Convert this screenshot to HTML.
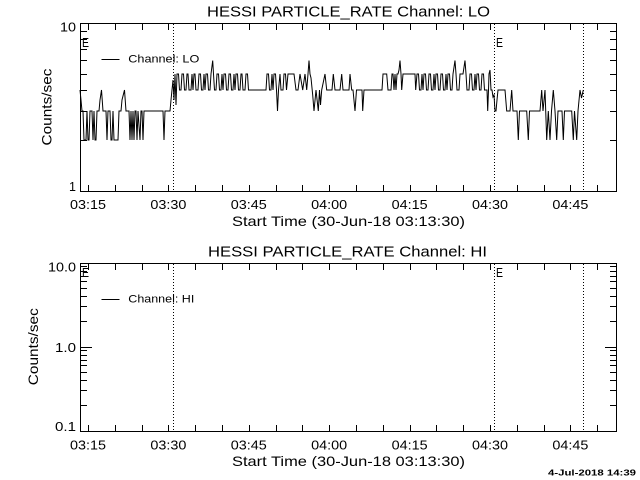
<!DOCTYPE html>
<html><head><meta charset="utf-8"><style>
html,body{margin:0;padding:0;background:#fff;}
svg{display:block;}
text{font-family:"Liberation Sans",sans-serif;fill:#000;}
</style></head><body>
<svg width="640" height="480" viewBox="0 0 640 480" xmlns="http://www.w3.org/2000/svg">
<rect x="0" y="0" width="640" height="480" fill="#fff"/>

<!-- ===== TOP PANEL ===== -->
<text x="207" y="16.5" font-size="15" textLength="283" lengthAdjust="spacingAndGlyphs">HESSI PARTICLE_RATE Channel: LO</text>
<rect x="80.5" y="23.5" width="536" height="168" fill="none" stroke="#000" stroke-width="1" shape-rendering="crispEdges"/>
<path shape-rendering="crispEdges" stroke="#000" stroke-width="1" fill="none" d="
M88.5 191 v-6 M115.5 191 v-6 M142.5 191 v-6 M168.5 191 v-6 M195.5 191 v-6 M222.5 191 v-6 M249.5 191 v-6 M276.5 191 v-6 M302.5 191 v-6 M329.5 191 v-6 M356.5 191 v-6 M383.5 191 v-6 M410.5 191 v-6 M436.5 191 v-6 M463.5 191 v-6 M490.5 191 v-6 M517.5 191 v-6 M544.5 191 v-6 M570.5 191 v-6 M597.5 191 v-6
M88.5 24 v6 M115.5 24 v6 M142.5 24 v6 M168.5 24 v6 M195.5 24 v6 M222.5 24 v6 M249.5 24 v6 M276.5 24 v6 M302.5 24 v6 M329.5 24 v6 M356.5 24 v6 M383.5 24 v6 M410.5 24 v6 M436.5 24 v6 M463.5 24 v6 M490.5 24 v6 M517.5 24 v6 M544.5 24 v6 M570.5 24 v6 M597.5 24 v6
M81 140.5 h6 M81 111.5 h6 M81 90.5 h6 M81 74.5 h6 M81 60.5 h6 M81 49.5 h6 M81 39.5 h6 M81 31.5 h6
M616 140.5 h-6 M616 111.5 h-6 M616 90.5 h-6 M616 74.5 h-6 M616 60.5 h-6 M616 49.5 h-6 M616 39.5 h-6 M616 31.5 h-6
"/>
<path stroke="#000" stroke-width="1" stroke-dasharray="1 2" fill="none" d="M173.5 24 V191 M494.5 24 V191 M583.5 24 V191"/>
<text x="76" y="31.5" font-size="12.5" text-anchor="end" textLength="16" lengthAdjust="spacingAndGlyphs">10</text>
<text x="76" y="191" font-size="12.5" text-anchor="end">1</text>
<text transform="translate(51.5,107) rotate(-90)" x="0" y="0" font-size="14" text-anchor="middle" textLength="77" lengthAdjust="spacingAndGlyphs">Counts/sec</text>
<g font-size="12.5" text-anchor="middle">
<text x="88" y="209" textLength="36" lengthAdjust="spacingAndGlyphs">03:15</text>
<text x="168.4" y="209" textLength="36" lengthAdjust="spacingAndGlyphs">03:30</text>
<text x="248.8" y="209" textLength="36" lengthAdjust="spacingAndGlyphs">03:45</text>
<text x="329.2" y="209" textLength="36" lengthAdjust="spacingAndGlyphs">04:00</text>
<text x="409.6" y="209" textLength="36" lengthAdjust="spacingAndGlyphs">04:15</text>
<text x="490" y="209" textLength="36" lengthAdjust="spacingAndGlyphs">04:30</text>
<text x="570.4" y="209" textLength="36" lengthAdjust="spacingAndGlyphs">04:45</text>
</g>
<text x="232" y="226" font-size="14" textLength="233" lengthAdjust="spacingAndGlyphs">Start Time (30-Jun-18 03:13:30)</text>
<text x="82" y="47" font-size="13" textLength="7" lengthAdjust="spacingAndGlyphs">E</text>
<text x="496" y="47" font-size="13" textLength="7" lengthAdjust="spacingAndGlyphs">E</text>
<path d="M101.7 59.5 H119.3" stroke="#000" stroke-width="1" shape-rendering="crispEdges"/>
<text x="128.3" y="62.7" font-size="11" textLength="71" lengthAdjust="spacingAndGlyphs">Channel: LO</text>

<polyline fill="none" stroke="#000" stroke-width="1" stroke-linejoin="miter" points="
80,90 81,100 82,111 83,111 84,140 86,140 87,111 88,140 89,140 90,111 92,111 93,140 94,111 95,140 96,140 97,111 99,111 100,100 101.5,90 103,111 106,111 107,140 108,111 110,111 111,140 112,140 113,111 114,140 118,140 119,111 121,111 122,100 124.5,90 126,111 129,111 130,140 131,111 132,140 133,111 134,140 135,111 136,111 137,140 138,111 140,140 141,111 142,111 143,140 144,111 163,111 164,140 165,111 169,111 170,111 171,100 172,90 173,80 174,100 175,74 176,105 177,74
178.5,74 179.5,90 181,90 182,74 183.5,74 184.5,90 186,90 187,74 188,74 189,90 191,90 192,74 193,90 194,74 195,74 196,90 198,90 199,74 200.5,74 201.5,90 203,90 204,74 205,90 206,74 207.5,74 208.5,90 210,90 211,74 212.7,60.5 213.5,74 214.5,90 216,90 217,74 218.5,74 219.5,90 221,90 222,74 223,90 224,74 225.5,74 226.5,90 228,90 229,74 230.5,74 231.5,90 233,90 234,74 235,90 236,74 237.5,74 238.5,90 240,90 241,74 242,74 243,90 245,90 246,74 247.5,74 248.5,90 266,90 267,74 268.5,74 269.5,90 271,90 272,74 273,90 274,74 275.5,74 276.5,90 277.5,111 278.5,90 280,74 281,90 283,90 284,74 285.5,74 286.5,90 288,74
294,74 296,90 298,90 300,74 302.7,90 305,74 306.7,90 308,74 309,60.5 310,74 311,78 312.7,95 314,111 316,90 318.3,111 319.5,90 320.5,105 321.7,90 325,74 326.7,90 332,90 333.3,74 335,90 340,90 341.7,74 343,90 349,90 350,74 351.7,90 353,90 355,111 356.5,90 362,90 362.7,111 364,90 382,90 383,74 386.7,74 388,90 391,90 392,74 393,74 394,90 395,74 396,90 397,74 398,74 399,70 400,60.5 401,74 401.7,90 403,74 415,74 415.7,90
417,74 418.5,74 419.5,90 421,90 422,74 423,90 424,74 425.5,74 426.5,90 428,90 429,74 430.5,74 431.5,90 433,90 434,74 435,90 436,74 437.5,74 438.5,90 440,90 441,74 442.5,74 443.5,90 445,90 446,74 447,90 448,74 449.5,74 450.5,90 452,90 453,74 455,60.5 456,74 457,90 459,90 460,74 463,74 465,60.5 466,74 467,90 469,90 470,74 471.5,74 472.5,90 474,90 475,74 476,90 477,74 478.5,74 479.5,90 481,90 482,74 483.5,74 484.5,90 487,90 487.7,111 488.5,90 489,74 490,70 491,90 492,90 493,97 494,95 495,111 496,111 497,100 498,90 505,90 506.7,111 510,111 511.7,90 513,111 517,111 518.3,140 519.5,111 526.7,111 528.3,140 529.5,111 540,111 541.7,90 543,111 545,90 546.7,140 548.3,111 550,140 551.5,111 553.3,90 555,111 556.7,140 558,111 562,111 563.3,140 564.5,111 571.7,111 573.3,140 574.5,111 576.7,140 578,111 580,90 581.5,98 583.3,90
"/>

<!-- ===== BOTTOM PANEL ===== -->
<text x="208" y="256.5" font-size="15" textLength="279" lengthAdjust="spacingAndGlyphs">HESSI PARTICLE_RATE Channel: HI</text>
<rect x="80.5" y="263.5" width="536" height="168" fill="none" stroke="#000" stroke-width="1" shape-rendering="crispEdges"/>
<path shape-rendering="crispEdges" stroke="#000" stroke-width="1" fill="none" d="
M88.5 431 v-6 M115.5 431 v-6 M142.5 431 v-6 M168.5 431 v-6 M195.5 431 v-6 M222.5 431 v-6 M249.5 431 v-6 M276.5 431 v-6 M302.5 431 v-6 M329.5 431 v-6 M356.5 431 v-6 M383.5 431 v-6 M410.5 431 v-6 M436.5 431 v-6 M463.5 431 v-6 M490.5 431 v-6 M517.5 431 v-6 M544.5 431 v-6 M570.5 431 v-6 M597.5 431 v-6
M88.5 264 v6 M115.5 264 v6 M142.5 264 v6 M168.5 264 v6 M195.5 264 v6 M222.5 264 v6 M249.5 264 v6 M276.5 264 v6 M302.5 264 v6 M329.5 264 v6 M356.5 264 v6 M383.5 264 v6 M410.5 264 v6 M436.5 264 v6 M463.5 264 v6 M490.5 264 v6 M517.5 264 v6 M544.5 264 v6 M570.5 264 v6 M597.5 264 v6
M81 405.5 h6 M81 390.5 h6 M81 380.5 h6 M81 372.5 h6 M81 365.5 h6 M81 360.5 h6 M81 355.5 h6 M81 350.5 h6
M81 347.5 h11
M81 321.5 h6 M81 306.5 h6 M81 296.5 h6 M81 288.5 h6 M81 281.5 h6 M81 276.5 h6 M81 271.5 h6 M81 266.5 h6
M616 405.5 h-6 M616 390.5 h-6 M616 380.5 h-6 M616 372.5 h-6 M616 365.5 h-6 M616 360.5 h-6 M616 355.5 h-6 M616 350.5 h-6
M616 347.5 h-11
M616 321.5 h-6 M616 306.5 h-6 M616 296.5 h-6 M616 288.5 h-6 M616 281.5 h-6 M616 276.5 h-6 M616 271.5 h-6 M616 266.5 h-6
"/>
<path stroke="#000" stroke-width="1" stroke-dasharray="1 2" fill="none" d="M173.5 264 V431 M494.5 264 V431 M583.5 264 V431"/>
<text x="76" y="271.5" font-size="12.5" text-anchor="end" textLength="28" lengthAdjust="spacingAndGlyphs">10.0</text>
<text x="76" y="352" font-size="12.5" text-anchor="end" textLength="21" lengthAdjust="spacingAndGlyphs">1.0</text>
<text x="76" y="431" font-size="12.5" text-anchor="end" textLength="21" lengthAdjust="spacingAndGlyphs">0.1</text>
<text transform="translate(38,346.7) rotate(-90)" x="0" y="0" font-size="14" text-anchor="middle" textLength="77" lengthAdjust="spacingAndGlyphs">Counts/sec</text>
<g font-size="12.5" text-anchor="middle">
<text x="88" y="449.3" textLength="36" lengthAdjust="spacingAndGlyphs">03:15</text>
<text x="168.4" y="449.3" textLength="36" lengthAdjust="spacingAndGlyphs">03:30</text>
<text x="248.8" y="449.3" textLength="36" lengthAdjust="spacingAndGlyphs">03:45</text>
<text x="329.2" y="449.3" textLength="36" lengthAdjust="spacingAndGlyphs">04:00</text>
<text x="409.6" y="449.3" textLength="36" lengthAdjust="spacingAndGlyphs">04:15</text>
<text x="490" y="449.3" textLength="36" lengthAdjust="spacingAndGlyphs">04:30</text>
<text x="570.4" y="449.3" textLength="36" lengthAdjust="spacingAndGlyphs">04:45</text>
</g>
<text x="232" y="466" font-size="14" textLength="233" lengthAdjust="spacingAndGlyphs">Start Time (30-Jun-18 03:13:30)</text>
<text x="82" y="277" font-size="13" textLength="7" lengthAdjust="spacingAndGlyphs">E</text>
<text x="496" y="277" font-size="13" textLength="7" lengthAdjust="spacingAndGlyphs">E</text>
<path d="M101.7 299.5 H119.3" stroke="#000" stroke-width="1" shape-rendering="crispEdges"/>
<text x="128.3" y="302.7" font-size="11" textLength="66" lengthAdjust="spacingAndGlyphs">Channel: HI</text>

<text x="548" y="475.5" font-size="8" font-weight="bold" textLength="88" lengthAdjust="spacingAndGlyphs">4-Jul-2018 14:39</text>
</svg>
</body></html>
